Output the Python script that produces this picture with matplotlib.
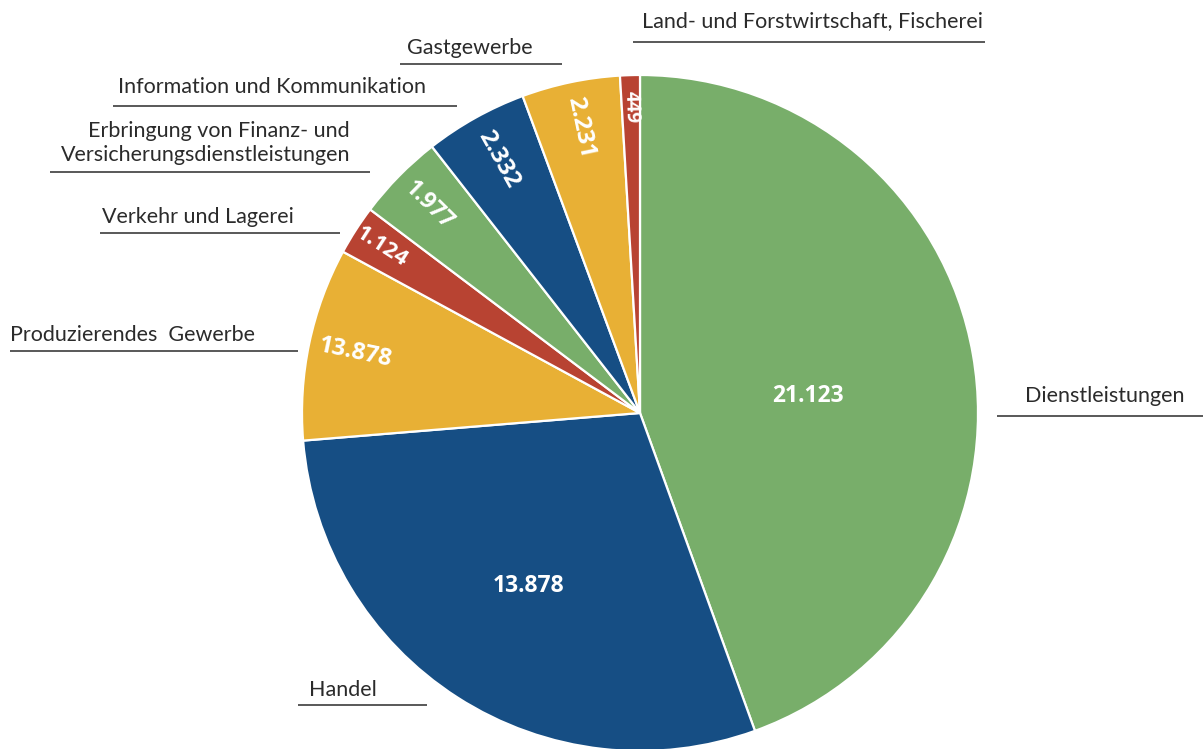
import numpy as np
import matplotlib.pyplot as plt

# Werte je Wirtschaftsbereich (Uhrzeigersinn ab 12 Uhr)
sectors = [
    "Dienstleistungen",
    "Handel",
    "Produzierendes  Gewerbe",
    "Verkehr und Lagerei",
    "Erbringung von Finanz- und\nVersicherungsdienstleistungen",
    "Information und Kommunikation",
    "Gastgewerbe",
    "Land- und Forstwirtschaft, Fischerei",
]
values = [21123, 13878, 4378, 1124, 1977, 2332, 2231, 449]
# Beschriftungen wie im Original (Produzierendes Gewerbe dort mit 13.878 beschriftet)
value_labels = ["21.123", "13.878", "13.878", "1.124", "1.977", "2.332", "2.231", "449"]
colors = ["#78AE6A", "#164E84", "#E8B035", "#B84332",
          "#78AE6A", "#164E84", "#E8B035", "#B84332"]

W, H = 1203, 749
fig = plt.figure(figsize=(W / 100, H / 100), dpi=100)
ax = fig.add_axes([0, 0, 1, 1])

cx, cy, radius = 640, H - 413, 338
wedges, _ = ax.pie(values, colors=colors, startangle=90, counterclock=False,
                   center=(cx, cy), radius=radius,
                   wedgeprops=dict(edgecolor="white", linewidth=1.6))
ax.set_xlim(0, W)
ax.set_ylim(0, H)
ax.set_aspect("auto")
ax.axis("off")

# Wertbeschriftungen in den Segmenten
label_r = [0.50, 0.61, 0.86, 0.91, 0.875, 0.86, 0.865, 0.905]
label_shift = [-4, 0, 0, 0, 0, 0, 0, 0]
label_size = [16.5, 16.5, 17, 16, 16.5, 17.5, 17.5, 13.5]
for w, txt, fr, sh, fs in zip(wedges, value_labels, label_r, label_shift, label_size):
    mid = (w.theta1 + w.theta2) / 2
    rad = np.deg2rad(mid + sh)
    x = cx + fr * radius * np.cos(rad)
    y = cy + fr * radius * np.sin(rad)
    rot = 0 if fr < 0.7 else mid - 180
    ax.text(x, y, txt, color="white", fontsize=fs, fontweight="bold",
            family="Open Sans", ha="center", va="center", rotation=rot,
            rotation_mode="anchor")

# Externe Beschriftungen mit Unterstrich (Pixelkoordinaten vom Bild oben)
label_pos = [
    (1105, 396, 997, 1203, 416, "center"),
    (343, 690, 298, 427, 705, "center"),
    (133, 335, 10, 298, 351, "center"),
    (198, 217, 100, 340, 233, "center"),
    (350, 143, 50, 370, 172, "right"),
    (272, 87, 113, 457, 106, "center"),
    (470, 48, 400, 562, 64, "center"),
    (812, 21, 633, 985, 42, "center"),
]
for name, (tx, ty, x0, x1, ly, ha) in zip(sectors, label_pos):
    ax.text(tx, H - ty, name, fontsize=15.5, family="Lato", color="#2b2b2b",
            ha=ha, va="center", multialignment="right", linespacing=1.2)
    ax.plot([x0, x1], [H - ly, H - ly], color="#2b2b2b", lw=1.1,
            solid_capstyle="butt")

fig.savefig("out.png", dpi=100)
